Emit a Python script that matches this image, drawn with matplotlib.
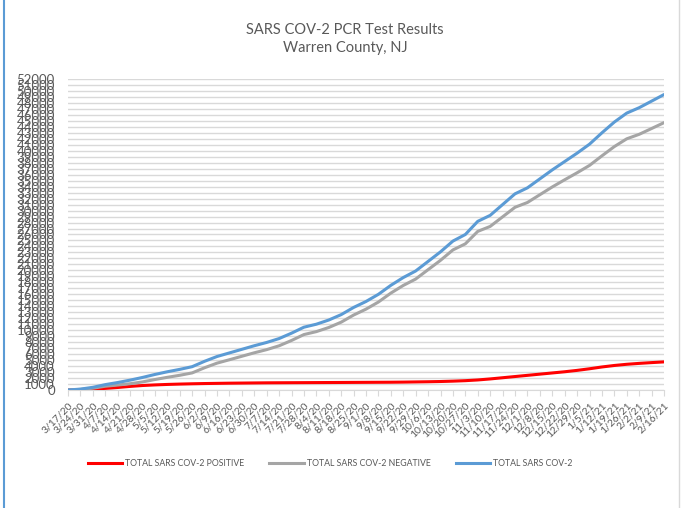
import matplotlib
matplotlib.use("Agg")
import matplotlib.pyplot as plt
from matplotlib.lines import Line2D

dates = ["3/17/20", "3/24/20", "3/31/20", "4/7/20", "4/14/20", "4/21/20", "4/28/20",
         "5/5/20", "5/12/20", "5/19/20", "5/26/20", "6/2/20", "6/9/20", "6/16/20",
         "6/23/20", "6/30/20", "7/7/20", "7/14/20", "7/21/20", "7/28/20", "8/4/20",
         "8/11/20", "8/18/20", "8/25/20", "9/1/20", "9/8/20", "9/15/20", "9/22/20",
         "9/29/20", "10/6/20", "10/13/20", "10/20/20", "10/27/20", "11/3/20", "11/10/20",
         "11/17/20", "11/24/20", "12/1/20", "12/8/20", "12/15/20", "12/22/20", "12/29/20",
         "1/5/21", "1/12/21", "1/19/21", "1/26/21", "2/2/21", "2/9/21", "2/16/21"]

positive = [0, 50, 150, 270, 420, 600, 750, 850, 930, 990, 1040, 1080, 1110, 1140,
            1160, 1180, 1200, 1210, 1220, 1230, 1240, 1250, 1260, 1270, 1280, 1290,
            1300, 1320, 1350, 1380, 1420, 1480, 1560, 1680, 1850, 2050, 2250, 2450,
            2650, 2850, 3050, 3280, 3550, 3850, 4100, 4300, 4450, 4580, 4700]

negative = [0, 100, 300, 630, 830, 1050, 1350, 1750, 2120, 2460, 2860, 3720, 4490,
            5060, 5640, 6220, 6750, 7390, 8280, 9270, 9760, 10450, 11340, 12530, 13520,
            14710, 16200, 17480, 18550, 20120, 21680, 23420, 24440, 26520, 27350, 28950,
            30550, 31350, 32650, 33950, 35150, 36320, 37550, 39150, 40700, 42000, 42750,
            43720, 44700]

total = [0, 150, 450, 900, 1250, 1650, 2100, 2600, 3050, 3450, 3900, 4800, 5600, 6200,
         6800, 7400, 7950, 8600, 9500, 10500, 11000, 11700, 12600, 13800, 14800, 16000,
         17500, 18800, 19900, 21500, 23100, 24900, 26000, 28200, 29200, 31000, 32800,
         33800, 35300, 36800, 38200, 39600, 41100, 43000, 44800, 46300, 47200, 48300,
         49400]

yticks = list(range(0, 52001, 1000))

txt = "#595959"
plt.rcParams['font.family'] = ['Lato', 'DejaVu Sans']

fig = plt.figure(figsize=(6.88, 5.08), dpi=100)
ax = fig.add_axes([68/688, 1-390/508, (664-68)/688, (390-79)/508])

x = list(range(len(dates)))
ax.plot(x, positive, color="#ff0000", lw=2.2, solid_capstyle="round", zorder=3)
ax.plot(x, negative, color="#a5a5a5", lw=2.2, solid_capstyle="round", zorder=3)
ax.plot(x, total, color="#5b9bd5", lw=2.2, solid_capstyle="round", zorder=3)

ax.set_xlim(0, len(dates) - 1)
ax.set_ylim(0, 52000)
ax.set_yticks(yticks)
ax.set_yticklabels([str(v) for v in yticks], fontsize=9.5, color=txt)
ax.set_xticks(x)
ax.set_xticklabels(dates, rotation=45, ha="right", rotation_mode="anchor",
                   fontsize=7.5, color=txt)
ax.tick_params(axis="y", length=0, pad=9.5)
ax.tick_params(axis="x", length=4, color="#d9d9d9", pad=4)
ax.grid(axis="y", color="#d9d9d9", lw=1)
ax.set_axisbelow(True)
for s in ["top", "right", "left"]:
    ax.spines[s].set_visible(False)
ax.spines["bottom"].set_color("#d9d9d9")

fig.text(345/688, 1-30/508, "SARS COV-2 PCR Test Results", ha="center", va="center",
         fontsize=10.5, color=txt)
fig.text(345/688, 1-48/508, "Warren County, NJ", ha="center", va="center",
         fontsize=10.5, color=txt)

handles = [Line2D([], [], color="#ff0000", lw=2.2),
           Line2D([], [], color="#a5a5a5", lw=2.2),
           Line2D([], [], color="#5b9bd5", lw=2.2)]
labels = ["TOTAL SARS COV-2 POSITIVE", "TOTAL SARS COV-2 NEGATIVE", "TOTAL SARS COV-2"]
leg = fig.legend(handles, labels, loc="center", bbox_to_anchor=(330/688, 1-464/508),
                 ncol=3, frameon=False, fontsize=6.3, handlelength=3.9,
                 handletextpad=0.35, columnspacing=2.9)
for t in leg.get_texts():
    t.set_color(txt)

# outer frame lines
fig.add_artist(Line2D([4/688, 4/688], [0, 1], color="#5b9bd5", lw=1.5,
                      transform=fig.transFigure))
fig.add_artist(Line2D([679/688, 679/688], [0, 1], color="#d9d9d9", lw=1,
                      transform=fig.transFigure))

fig.savefig("out.png", dpi=100)
